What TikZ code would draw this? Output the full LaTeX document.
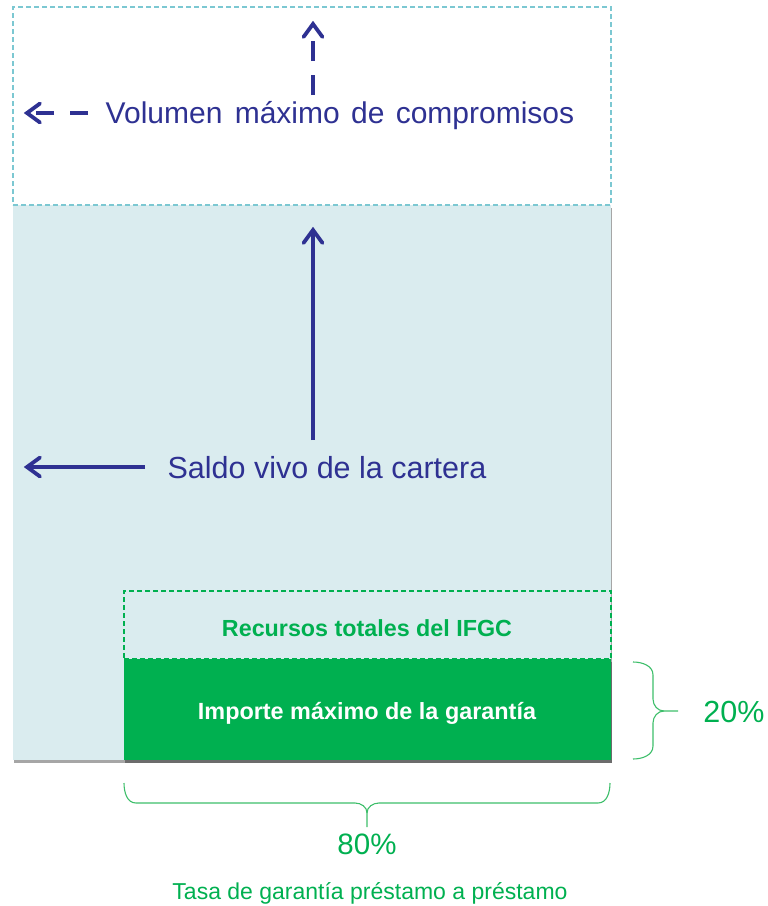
\documentclass[tikz,border=0pt]{standalone}
\usepackage{fontspec}
\setmainfont{Liberation Sans}
\usetikzlibrary{shadows}
\definecolor{navy}{HTML}{2E3192}
\definecolor{fgreen}{HTML}{00B050}
\definecolor{bracegreen}{HTML}{3DBE6A}
\definecolor{paleblue}{HTML}{DAECEF}
\definecolor{tealdash}{HTML}{7CC8D2}
\tikzset{
  box/.style={anchor=north west, inner sep=0pt, outer sep=0pt},
  navytext/.style={text=navy, anchor=base, inner sep=0pt},
  arrline/.style={draw=navy, line width=3.5pt},
  dashline/.style={arrline, dash pattern=on 20pt off 14pt},
  headline/.style={draw=navy, line width=3.8pt, line join=miter, line cap=round},
  bracestyle/.style={draw=bracegreen, line width=1.1pt},
  boxdash/.style={line width=1.2pt, dash pattern=on 5pt off 3pt},
  shade/.style={drop shadow={shadow xshift=1pt, shadow yshift=-2.5pt, fill=black, opacity=0.35}}
}
\begin{document}
\begin{tikzpicture}[x=1pt,y=-1pt]
\useasboundingbox (0,0) rectangle (768,906);
% top dashed box
\node[box, draw=tealdash, boxdash, minimum width=598pt, minimum height=198pt] (top) at (13,7) {};
% big pale box
\node[box, fill=paleblue, shade, minimum width=598pt, minimum height=555pt] (big) at (13,205) {};
\draw[tealdash, boxdash] (big.north west) -- (big.north east);
% green dashed box
\node[box, draw=fgreen, boxdash, minimum width=487pt, minimum height=68pt] (res) at (124,591) {};
% solid green box
\node[box, fill=fgreen, shade, minimum width=487pt, minimum height=101pt] (imp) at (124,659) {};
% texts
\node[navytext, font=\fontsize{30}{34}\selectfont] (vol) at (340,123) {Volumen\hspace{4pt} máximo\hspace{3pt} de\hspace{3pt} compromisos};
\node[navytext, font=\fontsize{30.5}{34}\selectfont] (saldo) at (327,478) {Saldo vivo de la cartera};
\node[anchor=base, inner sep=0pt, text=fgreen, font=\bfseries\fontsize{23.3}{27}\selectfont] (restext) at (367,636) {Recursos totales del IFGC};
\node[anchor=base, inner sep=0pt, text=white, font=\bfseries\fontsize{23.4}{27}\selectfont] (imptext) at (367,719) {Importe máximo de la garantía};
\node[anchor=base, inner sep=0pt, text=fgreen, font=\fontsize{30.5}{34}\selectfont] (p20) at (734,722) {20\%};
\node[anchor=base, inner sep=0pt, text=fgreen, font=\fontsize{29.5}{34}\selectfont] (p80) at (367,854) {80\%};
\node[anchor=base, inner sep=0pt, text=fgreen, font=\fontsize{23}{27}\selectfont] (tasa) at (370,899) {Tasa de garantía préstamo a préstamo};
% arrow endpoints
\coordinate (vup0) at (313,95);
\coordinate (vup1) at (313,24);
\coordinate (vl0) at (88,113);
\coordinate (vl1) at (27,113);
\coordinate (sup0) at (313,440);
\coordinate (sup1) at (313,230);
\coordinate (sl0) at (145,467);
\coordinate (sl1) at (27,467);
% dashed arrows
\draw[dashline] (vup0) -- (vup1);
\draw[headline] ([shift={(-9.5,13)}]vup1) -- (vup1) -- ([shift={(9.5,13)}]vup1);
\draw[dashline, dash pattern=on 18pt off 16pt] (vl0) -- (vl1);
\draw[headline] ([shift={(13,-9.5)}]vl1) -- (vl1) -- ([shift={(13,9.5)}]vl1);
% solid arrows
\draw[arrline] (sup0) -- (sup1);
\draw[headline] ([shift={(-9.5,13)}]sup1) -- (sup1) -- ([shift={(9.5,13)}]sup1);
\draw[arrline] (sl0) -- (sl1);
\draw[headline] ([shift={(13,-9.5)}]sl1) -- (sl1) -- ([shift={(13,9.5)}]sl1);
% right brace
\draw[bracestyle] (633,662) to[out=0,in=90] (653,675) -- (653,699) to[out=-90,in=180] (664,711) -- (678,711);
\draw[bracestyle] (633,759) to[out=0,in=-90] (653,746) -- (653,723) to[out=90,in=180] (664,711);
% bottom brace
\draw[bracestyle] (124,783) to[out=-90,in=180] (136,803) -- (355,803) to[out=0,in=90] (367,813) -- (367,827);
\draw[bracestyle] (610,783) to[out=-90,in=0] (598,803) -- (379,803) to[out=180,in=90] (367,813);
\end{tikzpicture}
\end{document}
